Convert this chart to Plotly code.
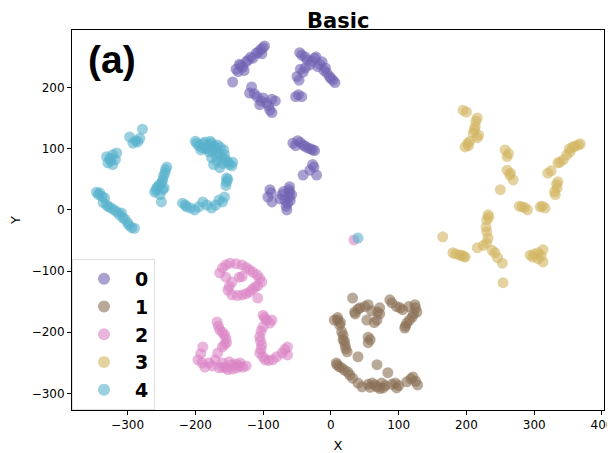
import plotly.graph_objects as go

labels = ["0", "1", "2", "3", "4"]
colors = ["#7262b3", "#8a7055", "#da84c4", "#d2b662", "#56b1cc"]

x0 = [-140, -133, -125, -118, -110, -104, -100, -145,
      -137, -130, -122, -115, -107, -98, -102, -135, -128,
      -117, -120, -109, -100, -87, -105, -90, -87,
      -113, -103, -95, -92, -82,
      -46, -38, -24, -13, -19, -6, 3, 6, -31, -41, -47, -52, -43,
      -43, -35, -28, -16, -10, -2, -45, -38, -50, -48, 0, -22, -8,
      -56, -49, -41, -34, -27, -27, -21, -41, -31,
      -52, -45, -38, -30, -24, -25,
      -90, -93, -87, -72, -61, -61, -64, -65, -61, -68,
      -88, -75, -70, -62, -58, -66, -60]
y0 = [230, 236, 242, 250, 256, 262, 265, 209,
      226, 233, 245, 248, 258, 268, 255, 238, 228,
      201, 191, 185, 183, 181, 172, 163, 159,
      190, 178, 175, 170, 178,
      257, 250, 248, 242, 234, 224, 212, 208, 237, 225, 212, 185, 185,
      253, 245, 243, 238, 228, 218, 230, 232, 218, 188, 215, 250, 232,
      109, 113, 106, 101, 98, 74, 57, 57, 65,
      105, 110, 104, 100, 97, 70,
      33, 21, 13, 25, 38, 21, 11, 0, 29, 16,
      28, 18, 30, 33, 25, 6, 15]

x1 = [32, 43, 35, 55, 53, 69, 68, 72,
      87, 97, 106, 124, 127, 120, 112, 109,
      10, 13, 16, 18, 21, 24, 9, 16, 25, 32, 46,
      55, 55, 40, 68,
      61, 68, 75, 84, 95, 97, 112, 121, 128, 77,
      10, 14, 18, 20, 22, 12, 20, 28, 40, 55, 58, 65, 72, 80, 90, 100,
      118, 125, 40, 50, 60, 72, 90, 102, 115, 125, 116, 58, 110, 36, 5,
      8, 64, 122]
y1 = [-144, -160, -167, -155, -180, -167, -180, -160,
      -147, -158, -163, -155, -167, -175, -185, -193,
      -180, -188, -199, -212, -221, -232, -253, -258, -265, -275, -289,
      -208, -217, -240, -253,
      -283, -289, -283, -266, -283, -291, -281, -273, -286, -291,
      -176, -184, -205, -215, -227, -256, -262, -270, -283, -285, -290, -286, -292, -287, -285, -287,
      -276, -280, -162, -158, -165, -170, -152, -160, -158, -160, -180, -212, -190, -170, -180,
      -250, -184, -170]

x2 = [-164, -149, -131, -120, -109, -102, -112, -120, -131, -131, -146, -152, -146, -108,
      -160, -155, -140, -125, -115, -105, -108, -116, -125, -138, -150, -155, -135,
      -100, -95, -100, -105, -102, -105, -97, -86, -72, -64, -64, -87,
      -98, -103, -104, -103, -100, -92, -80, -68, -90,
      -168, -164, -157, -154, -160,
      -166, -160, -155, -157,
      -189, -196, -186, -171, -160, -146, -134, -130, -139, -152, -167,
      -192, -180, -175, -165, -155, -140, -135, -145, -125, -190, -160, -150, 34]
y2 = [-103, -87, -90, -98, -106, -118, -126, -134, -139, -109, -118, -131, -139, -144,
      -95, -90, -88, -94, -102, -112, -124, -130, -137, -140, -125, -110, -110,
      -172, -180, -191, -207, -221, -234, -245, -245, -234, -224, -237, -180,
      -176, -198, -214, -228, -240, -246, -240, -228, -185,
      -183, -196, -204, -217, -224,
      -190, -200, -210, -220,
      -224, -245, -257, -245, -257, -253, -250, -257, -258, -261, -234,
      -235, -250, -255, -258, -258, -252, -255, -260, -255, -250, -250, -248, -49]

x3 = [195, 216, 213, 210, 216, 198, 202,
      200, 214, 212, 205, 218, 203,
      257, 260, 260, 264, 269, 250, 262, 265,
      357, 365, 353, 343, 335, 320, 335, 334, 331, 316, 309, 282, 290,
      352, 360, 368, 348, 338, 325, 333, 330, 312, 286, 278,
      232, 230, 230, 230, 216, 242, 253, 254,
      233, 229, 232, 225, 238, 246,
      165, 180, 198, 193, 196, 184, 190,
      294, 306, 313, 313, 298, 300, 310, 306]
y3 = [163, 150, 136, 126, 118, 103, 109,
      160, 145, 131, 112, 122, 105,
      98, 87, 65, 57, 49, 33, 92, 60,
      103, 106, 95, 82, 77, 60, 46, 36, 25, 3, 5, 5, 0,
      100, 104, 108, 90, 78, 64, 42, 30, 6, 4, 6,
      -8, -16, -36, -54, -62, -70, -87, -119,
      -12, -28, -46, -58, -66, -78,
      -44, -70, -77, -74, -76, -72, -74,
      -74, -70, -65, -85, -77, -72, -75, -80]

x4 = [-278, -297, -285, -292, -282, -288,
      -331, -322, -316, -329, -322, -326, -318, -325,
      -346, -341, -334, -331, -324, -316, -309, -307, -300, -294,
      -343, -338, -336, -328, -320, -312, -304, -298, -290,
      -242, -245, -248, -253, -257, -260, -248, -250,
      -244, -247, -250, -255, -258, -252, -246,
      -219, -213, -201, -189, -176, -160, -157,
      -215, -207, -195, -183, -170, -165,
      -154, -154, -155, -152,
      -198, -186, -176, -167, -192, -180, -170, -161, -152, -146, -173, -164, -183, -158,
      -195, -188, -180, -172, -163, -185, -175, -165, -157, -176, -168, -160, -150, -155,
      -145, -190, -178, -200, -170, 40]
y4 = [132, 119, 111, 109, 117, 113,
      87, 90, 93, 77, 74, 84, 82, 80,
      29, 28, 20, 8, 3, -3, -5, -13, -21, -29,
      25, 22, 12, 5, 0, -8, -15, -25, -30,
      70, 60, 49, 41, 36, 29, 33, 13,
      66, 55, 44, 38, 32, 25, 36,
      11, 5, 0, 13, 3, 13, 21,
      8, 3, 5, 8, 8, 16,
      46, 52, 40, 50,
      109, 111, 109, 106, 98, 95, 90, 85, 78, 72, 74, 69, 101, 98,
      105, 108, 106, 104, 102, 100, 96, 92, 90, 85, 80, 76, 74, 82,
      78, 102, 112, 112, 100, -46]

xs = [x0, x1, x2, x3, x4]
ys = [y0, y1, y2, y3, y4]

fig = go.Figure()
for lab, col, xv, yv in zip(labels, colors, xs, ys):
    fig.add_trace(go.Scatter(
        x=xv, y=yv, mode="markers", name="<b>" + lab + "</b>",
        marker=dict(color=col, size=11, opacity=0.6, line=dict(width=0)),
    ))

fig.update_layout(
    width=615, height=453,
    margin=dict(l=64, r=19, t=22, b=51),
    paper_bgcolor="white", plot_bgcolor="white",
    font=dict(family="DejaVu Sans", size=12, color="black"),
    showlegend=True,
    legend=dict(x=0.0, y=0.0, xanchor="left", yanchor="bottom",
                bgcolor="rgba(255,255,255,0.8)", bordercolor="#e0e0e0", borderwidth=1,
                font=dict(size=19, family="DejaVu Sans"), itemsizing="constant",
                itemwidth=52),
    annotations=[
        dict(text="<b>Basic</b>", x=0.5, y=1.0, xref="paper", yref="paper",
             xanchor="center", yanchor="bottom", yshift=-4, borderpad=0, showarrow=False,
             font=dict(size=21, family="DejaVu Sans", color="black")),
        dict(text="<b>(a)</b>", x=0.026, y=0.983, xref="paper", yref="paper",
             xanchor="left", yanchor="top", showarrow=False,
             font=dict(size=39, family="Liberation Sans Narrow, Liberation Sans", color="black")),
    ],
)
fig.update_xaxes(range=[-382, 403], tickvals=[-300, -200, -100, 0, 100, 200, 300, 400],
                 showline=True, linecolor="black", linewidth=1, mirror=True, automargin=False,
                 ticks="outside", ticklen=4, tickcolor="black", showgrid=False, zeroline=False,
                 title=dict(text="X", font=dict(size=13), standoff=9))
fig.update_yaxes(range=[-327, 294], tickvals=[-300, -200, -100, 0, 100, 200],
                 showline=True, linecolor="black", linewidth=1, mirror=True, automargin=False,
                 ticks="outside", ticklen=4, tickcolor="black", showgrid=False, zeroline=False,
                 title=dict(text="Y", font=dict(size=13), standoff=14))

fig.write_html("out.html")
